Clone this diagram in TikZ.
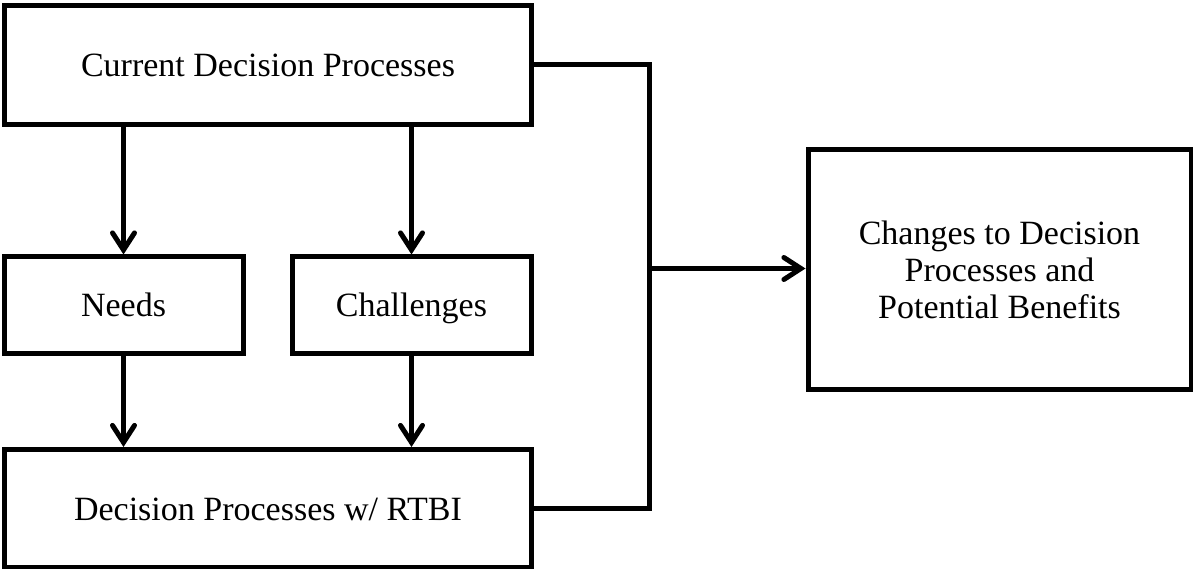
\documentclass[tikz,border=0pt]{standalone}
\usepackage{fontspec}
\setmainfont{Liberation Serif}
\usetikzlibrary{arrows.meta}
\begin{document}
\begin{tikzpicture}[x=1pt,y=-1pt,line width=5pt,
        box/.style={draw,rectangle,line join=miter,align=center,inner sep=0pt,
            text height=26pt,text depth=3pt,font=\fontsize{34}{37}\selectfont},
        flow/.style={-{Straight Barb[length=17pt,width=22pt,line cap=round]}}]
            \useasboundingbox (0,0) rectangle (1193,569);
            \node[box,minimum width=527,minimum height=119] (cur) at (268,65) {Current Decision Processes};
            \node[box,minimum width=239,minimum height=96] (needs) at (123.5,305) {Needs};
            \node[box,minimum width=239,minimum height=96] (chal) at (411.5,305) {Challenges};
            \node[box,minimum width=527,minimum height=118] (rtbi) at (268,508.5) {Decision Processes w/ RTBI};
            \node[box,minimum width=383,minimum height=239,text height=,text depth=] (chg) at (999.5,269.5) {Changes to Decision\\Processes and\\Potential Benefits};
            \coordinate (join) at (649,268.5);
            \draw[flow] (cur.south -| needs.north) -- (needs.north);
            \draw[flow] (cur.south -| chal.north) -- (chal.north);
            \draw[flow] (needs.south) -- (rtbi.north -| needs.south);
            \draw[flow] (chal.south) -- (rtbi.north -| chal.south);
            \draw (cur.east) -| (join) |- (rtbi.east);
            \draw[flow] (join) -- (chg.west |- join);
        \end{tikzpicture}
\end{document}
